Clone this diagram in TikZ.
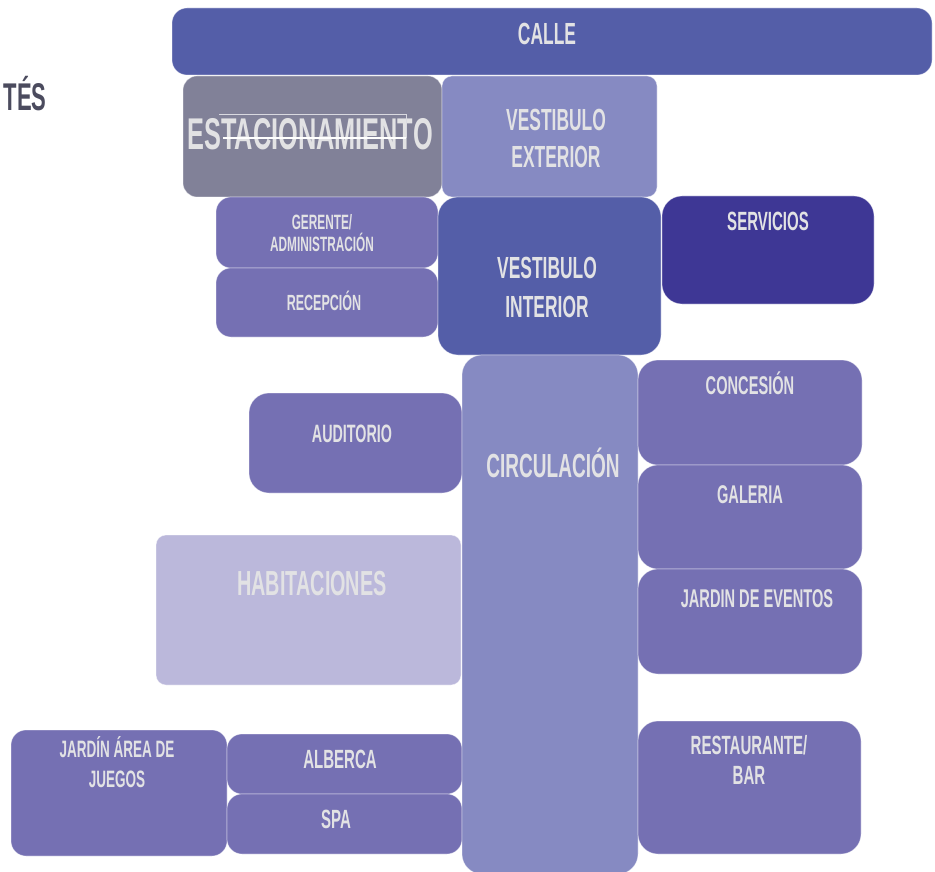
\documentclass[tikz,border=0pt]{standalone}
\usepackage{fontspec}
\usepackage{xcolor}
\newfontfamily\bebas{Liberation Sans Bold}[FakeStretch=0.57]
\definecolor{CalleBlue}{HTML}{545EA8}
\definecolor{ParkGray}{HTML}{818198}
\definecolor{LobbyLight}{HTML}{868AC2}
\definecolor{RoomViolet}{HTML}{7570B3}
\definecolor{ServDark}{HTML}{3E3795}
\definecolor{HabPale}{HTML}{BBB8DB}
\definecolor{LblGray}{HTML}{E2E2E4}
\definecolor{TitleGray}{HTML}{4B4B5E}

\begin{document}
\begin{tikzpicture}[
  x=0.02cm, y=-0.02cm,
  room/.style={draw=white, draw opacity=0.45, line width=0.4pt, rounded corners=0.3cm},
  roomwide/.style={room, rounded corners=0.4cm},
  lbl/.style={text=LblGray, align=center, inner sep=0pt, anchor=base},
]
\useasboundingbox (0,0) rectangle (935,871);
\clip (0,0) rectangle (935,871);

% ============ entrance ============
\path[room, fill=CalleBlue] (172,8) rectangle (932,75);
\path[room, rounded corners=0.28cm, fill=ParkGray] (183,76) rectangle (442,197);
\path[room, rounded corners=0.2cm, fill=LobbyLight] (442,76) rectangle (657,197);

\node[lbl, font=\bebas\fontsize{17.4}{21}\selectfont] (calle) at (547,45) {CALLE};
\node[lbl, font=\bebas\fontsize{25.3}{30}\selectfont] (estac) at (310,150) {ESTACIONAMIENTO};
\node[lbl, font=\bebas\fontsize{17.4}{21.5}\selectfont] (vestext) at (556,168) {VESTIBULO\\EXTERIOR};

% stray text frame over the parking label
\draw[white!70!ParkGray, line width=0.4pt] (219,114) -- (406,114) -- (406,138);
\draw[white, line width=0.6pt] (223,138) -- (406,138);

\node[anchor=base east, inner sep=0pt, text=TitleGray, font=\bebas\fontsize{22}{26}\selectfont] (tes) at (47,111) {TÉS};

% ============ lobby block ============
\path[room, fill=RoomViolet] (216,197) rectangle (438,268);
\path[room, fill=RoomViolet] (216,268) rectangle (438,337);
\path[roomwide, fill=CalleBlue] (438,197) rectangle (661,355);
\path[roomwide, fill=ServDark] (662,196) rectangle (874,304);

\node[lbl, font=\bebas\fontsize{11.8}{13}\selectfont] (gerente) at (322,252) {GERENTE/\\ADMINISTRACIÓN};
\node[lbl, font=\bebas\fontsize{12.5}{14}\selectfont] (recep) at (324,310) {RECEPCIÓN};
\node[lbl, font=\bebas\fontsize{17.4}{22}\selectfont] (vestint) at (547,317) {VESTIBULO\\INTERIOR};
\node[lbl, font=\bebas\fontsize{15}{18}\selectfont] (serv) at (768,231) {SERVICIOS};

% ============ left wing ============
\path[roomwide, fill=RoomViolet] (249,393) rectangle (462,493);
\path[room, rounded corners=0.2cm, fill=HabPale] (156,535) rectangle (461,685);
\path[room, fill=RoomViolet] (11,730) rectangle (227,856);
\path[room, fill=RoomViolet] (227,734) rectangle (462,794);
\path[room, fill=RoomViolet] (227,794) rectangle (462,854);

\node[lbl, font=\bebas\fontsize{14.3}{17}\selectfont] (audit) at (352,442) {AUDITORIO};
\node[lbl, font=\bebas\fontsize{19.8}{24}\selectfont] (habit) at (312,595) {HABITACIONES};
\node[lbl, font=\bebas\fontsize{13.5}{17}\selectfont] (jardjuegos) at (117,787) {JARDÍN ÁREA DE\\JUEGOS};
\node[lbl, font=\bebas\fontsize{15}{18}\selectfont] (alberca) at (340,768) {ALBERCA};
\node[lbl, font=\bebas\fontsize{15}{18}\selectfont] (spa) at (336,828) {SPA};

% ============ circulation + right wing ============
\path[roomwide, fill=LobbyLight] (462,355) rectangle (638,874);
\path[roomwide, fill=RoomViolet] (638,360) rectangle (862,465);
\path[roomwide, fill=RoomViolet] (638,465) rectangle (862,569);
\path[roomwide, fill=RoomViolet] (638,569) rectangle (862,674);
\path[roomwide, fill=RoomViolet] (638,721) rectangle (861,854);

\node[lbl, font=\bebas\fontsize{19}{23}\selectfont] (circ) at (553,477) {CIRCULACIÓN};
\node[lbl, font=\bebas\fontsize{14.6}{17}\selectfont] (conces) at (750,394) {CONCESIÓN};
\node[lbl, font=\bebas\fontsize{14.6}{17}\selectfont] (galeria) at (750,503) {GALERIA};
\node[lbl, font=\bebas\fontsize{14.6}{17}\selectfont] (jardev) at (757,607) {JARDIN DE EVENTOS};
\node[lbl, font=\bebas\fontsize{15}{17}\selectfont] (resto) at (749,784) {RESTAURANTE/\\BAR};

\end{tikzpicture}
\end{document}
